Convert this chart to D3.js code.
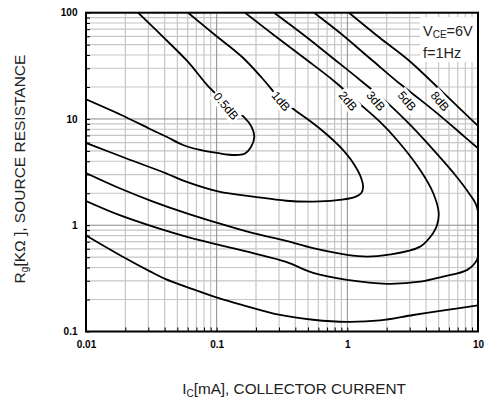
<!DOCTYPE html>
<html><head><meta charset="utf-8">
<script src="https://cdn.jsdelivr.net/npm/d3@7"></script>
<style>body{margin:0;background:#fff}svg{display:block}</style>
</head><body>
<svg id="chart" width="484" height="401"></svg>
<script>
// ---- data ----
const xDomain = [0.01, 10];
const yDomain = [0.1, 100];
const xTickValues = [0.01, 0.1, 1, 10];
const xTickLabels = ["0.01", "0.1", "1", "10"];
const yTickValues = [0.1, 1, 10, 100];
const yTickLabels = ["0.1", "1", "10", "100"];
const curveLabels = ["0.5dB", "1dB", "2dB", "3dB", "5dB", "8dB"];
const labelIc = [0.114, 0.301, 0.979, 1.60, 2.77, 4.96];
const labelRg = [12.8, 14.2, 14.3, 14.3, 14.3, 14.2];

const ic05 = [0.01,0.0199,0.0309,0.0417,0.0553,0.0746,0.1007,0.138,0.165,0.183,0.194,0.185,0.162,0.120,0.0859,0.0604,0.0382,0.025];
const rg05 = [15.3,10.5,8.05,6.77,5.69,5.11,4.79,4.58,4.74,5.45,6.77,8.41,10.4,13.8,20.4,34.4,60.4,100];

const ic1 = [0.01,0.0202,0.041,0.0583,0.1043,0.190,0.340,0.547,0.807,1.15,1.28,1.32,1.276,1.108,0.881,0.676,0.519,0.405,0.311,0.2226,0.156,0.0972,0.0604];
const rg1 = [5.95,4.27,3.08,2.57,2.07,1.86,1.70,1.67,1.71,1.85,2.01,2.29,2.78,3.85,5.45,7.38,9.58,11.9,15.1,24.3,38.5,61.7,100];

const ic2 = [0.01,0.0179,0.0326,0.0583,0.1043,0.190,0.340,0.547,0.996,1.42,2.02,3.61,4.54,4.87,5.00,4.54,3.61,2.40,1.78,1.25,0.807,0.490,0.280,0.165];
const rg2 = [3.10,2.24,1.67,1.30,1.04,0.841,0.712,0.608,0.526,0.507,0.526,0.629,0.847,1.01,1.31,2.01,3.31,6.34,9.38,13.8,22.3,35.9,60.4,100];

const ic3 = [0.01,0.0179,0.0326,0.0583,0.1043,0.190,0.340,0.547,0.996,2.02,3.61,5.32,8.27,9.81,10.3,10.3,9.69,8.71,6.69,4.70,3.03,1.95,1.25,0.807,0.475,0.275];
const rg3 = [1.69,1.25,0.970,0.782,0.653,0.546,0.452,0.356,0.306,0.281,0.294,0.327,0.380,0.472,0.653,1.01,1.55,1.93,2.97,4.90,8.78,14.8,23.3,35.9,60.4,100];

const ic5Lower = [0.01,0.0199,0.0309,0.0403,0.0683,0.1025,0.156,0.306,0.547,0.996,1.78,3.19,5.81,10];
const rg5Lower = [0.802,0.492,0.368,0.313,0.246,0.207,0.178,0.143,0.129,0.123,0.127,0.143,0.160,0.176];
const ic5Upper = [0.557,0.881,1.54,2.54,3.61,5.14,7.31,10];
const rg5Upper = [100,64.4,35.9,21.3,15.2,10.7,7.38,5.3];

const ic8 = [1.03,1.78,2.93,6.02,10];
const rg8 = [100,57.8,35.9,15.6,8.6];

// ---- layout ----
const W = 484, H = 401;
const m = {left: 86, right: 6, top: 12.7, bottom: 69.5};
const pw = W - m.left - m.right, ph = H - m.top - m.bottom;
const svg = d3.select("#chart");
const x = d3.scaleLog().domain(xDomain).range([0, pw]);
const y = d3.scaleLog().domain(yDomain).range([ph, 0]);
const g = svg.append("g").attr("transform", `translate(${m.left},${m.top})`);

const font = "'Liberation Sans', Arial, Helvetica, sans-serif";

// grid values
const xGrid = [], yGrid = [];
[0.01, 0.1, 1].forEach(d => { for (let k = 1; k <= 9; k++) xGrid.push(+(k * d).toPrecision(3)); });
xGrid.push(10);
[0.1, 1, 10].forEach(d => { for (let k = 1; k <= 9; k++) yGrid.push(+(k * d).toPrecision(3)); });
yGrid.push(100);
const isMajor = v => Math.abs(Math.log10(v) - Math.round(Math.log10(v))) < 1e-6;

g.append("g").selectAll("line").data(xGrid.filter(v => !isMajor(v))).join("line")
  .attr("x1", d => x(d)).attr("x2", d => x(d)).attr("y1", 0).attr("y2", ph)
  .attr("stroke", "#c6c6c6").attr("stroke-width", 1.2);
g.append("g").selectAll("line").data(yGrid.filter(v => !isMajor(v))).join("line")
  .attr("y1", d => y(d)).attr("y2", d => y(d)).attr("x1", 0).attr("x2", pw)
  .attr("stroke", "#c6c6c6").attr("stroke-width", 1.2);
g.append("g").selectAll("line").data(xGrid.filter(isMajor)).join("line")
  .attr("x1", d => x(d)).attr("x2", d => x(d)).attr("y1", 0).attr("y2", ph)
  .attr("stroke", "#8a8a8a").attr("stroke-width", 1);
g.append("g").selectAll("line").data(yGrid.filter(isMajor)).join("line")
  .attr("y1", d => y(d)).attr("y2", d => y(d)).attr("x1", 0).attr("x2", pw)
  .attr("stroke", "#8a8a8a").attr("stroke-width", 1);

// clip
svg.append("defs").append("clipPath").attr("id", "clip")
  .append("rect").attr("width", pw).attr("height", ph);

const line = d3.line().x(d => x(d[0])).y(d => y(d[1])).curve(d3.curveCatmullRom.alpha(0.5));
const series = [
  [ic05, rg05], [ic1, rg1], [ic2, rg2], [ic3, rg3],
  [ic5Lower, rg5Lower], [ic5Upper, rg5Upper], [ic8, rg8]
];
const cg = g.append("g").attr("clip-path", "url(#clip)");
series.forEach(([ics, rgs]) => {
  cg.append("path").datum(ics.map((v, i) => [v, rgs[i]]))
    .attr("d", line).attr("fill", "none").attr("stroke", "#000").attr("stroke-width", 1.8);
});

// curve labels (rotated along the contour, white backing)
curveLabels.forEach((t, i) => {
  const lg = g.append("g").attr("transform", `translate(${x(labelIc[i]) + 2},${y(labelRg[i]) - 1.6}) rotate(50)`);
  const tx = lg.append("text").text(t).attr("text-anchor", "middle").attr("dy", "0.36em")
    .attr("font-family", font).attr("font-size", 12).attr("fill", "#000");
  const len = tx.node().getComputedTextLength();
  lg.insert("rect", "text").attr("x", -len / 2 - 1.5).attr("y", -7.5).attr("width", len + 3).attr("height", 15).attr("fill", "#fff");
});

// annotation box
const ann = g.append("g").attr("transform", `translate(${pw - 58},${4.5})`);
ann.append("rect").attr("width", 57).attr("height", 45).attr("fill", "#fff");
const t1 = ann.append("text").attr("x", 3).attr("y", 19).attr("font-family", font).attr("font-size", 14.5).attr("fill", "#222");
t1.append("tspan").text("V");
t1.append("tspan").text("CE").attr("font-size", 10).attr("dy", 2);
t1.append("tspan").text("=6V").attr("dy", -2);
ann.append("text").attr("x", 3).attr("y", 40.5).attr("font-family", font).attr("font-size", 14.5).attr("fill", "#222").text("f=1Hz");

// axes
const xAxis = d3.axisBottom(x).tickValues(xGrid).tickSize(-4).tickPadding(9)
  .tickFormat(d => { const i = xTickValues.findIndex(v => Math.abs(v - d) < 1e-9); return i >= 0 ? xTickLabels[i] : ""; });
const yAxis = d3.axisLeft(y).tickValues(yGrid).tickSize(-4).tickPadding(8.5)
  .tickFormat(d => { const i = yTickValues.findIndex(v => Math.abs(v - d) < 1e-9); return i >= 0 ? yTickLabels[i] : ""; });
const gx = g.append("g").attr("transform", `translate(0,${ph})`).call(xAxis);
const gy = g.append("g").call(yAxis);
[gx, gy].forEach(a => {
  a.select(".domain").remove();
  a.selectAll(".tick line").attr("stroke", "#000").attr("stroke-width", 1);
  a.selectAll("text").attr("font-family", font).attr("font-size", 10).attr("font-weight", "bold").attr("fill", "#000");
});

// frame
g.append("rect").attr("width", pw).attr("height", ph).attr("fill", "none").attr("stroke", "#000").attr("stroke-width", 2);

// axis titles
const xt = svg.append("text").attr("x", 294).attr("y", 394).attr("text-anchor", "middle")
  .attr("font-family", font).attr("font-size", 15.3).attr("fill", "#222");
xt.append("tspan").text("I");
xt.append("tspan").text("C").attr("font-size", 10).attr("dy", 2.5);
xt.append("tspan").text("[mA], COLLECTOR CURRENT").attr("dy", -2.5);

const yt = svg.append("text").attr("transform", "translate(25,169) rotate(-90)").attr("text-anchor", "middle")
  .attr("font-family", font).attr("font-size", 15.5).attr("fill", "#222");
yt.append("tspan").text("R");
yt.append("tspan").text("g").attr("font-size", 10).attr("dy", 2.5);
yt.append("tspan").text("[KΩ ], SOURCE RESISTANCE").attr("dy", -2.5);
</script>
</body></html>
